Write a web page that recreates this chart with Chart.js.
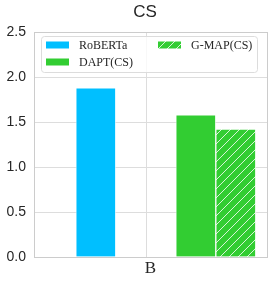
<!DOCTYPE html>
<html><head><meta charset="utf-8">
<script src="https://cdn.jsdelivr.net/npm/chart.js@4/dist/chart.umd.min.js"></script>
<style>html,body{margin:0;padding:0;background:#fff;overflow:hidden}</style>
</head><body><canvas id="c" width="273" height="283"></canvas>
<script>
// ---- data ----
const chartTitle = 'CS';
const categories = ['B'];
const seriesNames = ['RoBERTa', 'DAPT(CS)', 'G-MAP(CS)'];
const robertaValues = [1.88];
const daptValues = [1.58];
const gmapValues = [1.42];
const yTickValues = [0, 0.5, 1.0, 1.5, 2.0, 2.5];

// ---- layout (slot positions on x axis, in bar-width units) ----
const slotPos = [1.52, 4.02, 5.02];
const catTickPos = 2.775;
const xMax = 5.8;

const BLUE = 'rgb(0,191,255)';
const GREEN = 'rgb(50,205,50)';
const TXT = '#262626';

function makeHatch(color) {
  const s = 9;
  const c = document.createElement('canvas'); c.width = s; c.height = s;
  const g = c.getContext('2d');
  g.fillStyle = color; g.fillRect(0, 0, s, s);
  g.strokeStyle = 'rgba(255,255,255,0.8)'; g.lineWidth = 1;
  g.beginPath();
  g.moveTo(0, s); g.lineTo(s, 0);
  g.moveTo(-1, 1); g.lineTo(1, -1);
  g.moveTo(s - 1, s + 1); g.lineTo(s + 1, s - 1);
  g.stroke();
  return g.createPattern(c, 'repeat');
}
const ctx = document.getElementById('c').getContext('2d');
const hatch = makeHatch(GREEN);

const toPts = (vals, i) => vals.map(v => ({x: slotPos[i], y: v}));

const framePlugin = {
  id: 'frame',
  afterDatasetsDraw(chart) {
    const a = chart.chartArea, g = chart.ctx;
    g.save();
    g.strokeStyle = '#cccccc'; g.lineWidth = 1;
    const L = Math.round(a.left) - 0.5, R = Math.round(a.right) + 0.5;
    const T = Math.round(a.top) + 0.5, B = Math.round(a.bottom) + 0.5;
    g.strokeRect(L, T, R - L, B - T);
    g.restore();
  }
};
const titlePlugin = {
  id: 'ttl',
  afterDraw(chart) {
    const g = chart.ctx;
    g.save();
    g.fillStyle = TXT; g.font = '17px "Liberation Sans", Arial, sans-serif';
    g.textAlign = 'center'; g.textBaseline = 'middle';
    g.fillText(chartTitle, 145, 12);
    g.restore();
  }
};
const legendPlugin = {
  id: 'lgd',
  afterDraw(chart) {
    const g = chart.ctx;
    g.save();
    g.beginPath();
    g.roundRect(41.5, 36.5, 216, 36, 3);
    g.fillStyle = 'rgba(255,255,255,0.8)'; g.fill();
    g.strokeStyle = '#dcdcdc'; g.lineWidth = 1; g.stroke();
    const items = [{x: 46, y: 45, i: 0}, {x: 46, y: 62, i: 1}, {x: 158, y: 45, i: 2}];
    g.font = '12px "Liberation Serif", "Times New Roman", serif';
    g.textBaseline = 'middle'; g.textAlign = 'left';
    items.forEach(it => {
      const ds = chart.data.datasets[it.i];
      g.fillStyle = ds.backgroundColor;
      g.fillRect(it.x, it.y - 3.5, 23, 7);
      g.fillStyle = TXT;
      g.fillText(ds.label, it.x + 33, it.y + 1);
    });
    g.restore();
  }
};

new Chart(ctx, {
  type: 'bar',
  data: {
    datasets: [
      {label: seriesNames[0], data: toPts(robertaValues, 0), backgroundColor: BLUE, borderColor: 'rgba(255,255,255,0.6)', borderWidth: 1},
      {label: seriesNames[1], data: toPts(daptValues, 1), backgroundColor: GREEN, borderColor: 'rgba(255,255,255,0.6)', borderWidth: 1},
      {label: seriesNames[2], data: toPts(gmapValues, 2), backgroundColor: hatch, borderColor: 'rgba(255,255,255,0.6)', borderWidth: 1}
    ]
  },
  options: {
    responsive: false, animation: false, devicePixelRatio: 1,
    grouped: false,
    datasets: {bar: {categoryPercentage: 1, barPercentage: 1, grouped: false}},
    layout: {padding: {top: 32, right: 6, left: 0, bottom: 0}},
    plugins: {legend: {display: false}, title: {display: false}, tooltip: {enabled: false}},
    scales: {
      x: {
        type: 'linear', min: 0, max: xMax, offset: false,
        grid: {offset: false, color: '#dddddd', drawTicks: false},
        border: {display: false},
        afterBuildTicks: s => { s.ticks = [{value: catTickPos}]; },
        afterFit: s => { s.height = 26; },
        ticks: {
          callback: () => categories[0], labelOffset: 4.5, padding: 1, color: TXT,
          maxRotation: 0, autoSkip: false,
          font: {family: '"Liberation Serif", "Times New Roman", serif', size: 17}
        }
      },
      y: {
        min: 0, max: 2.5,
        afterBuildTicks: s => { s.ticks = yTickValues.map(v => ({value: v})); },
        afterFit: s => { s.width = 35; },
        grid: {color: '#dddddd', drawTicks: false},
        border: {display: false},
        ticks: {
          callback: v => Number(v).toFixed(1), padding: 9, color: TXT,
          font: {family: '"Liberation Sans", Arial, sans-serif', size: 14}
        }
      }
    }
  },
  plugins: [framePlugin, legendPlugin, titlePlugin]
});
</script>
</body></html>
